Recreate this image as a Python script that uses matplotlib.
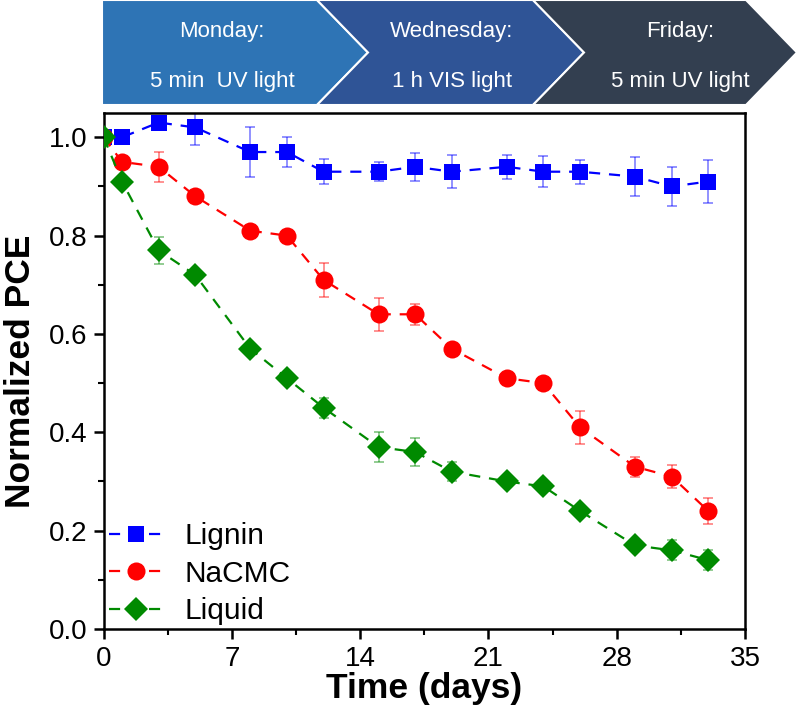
import numpy as np
import matplotlib.pyplot as plt
from matplotlib.patches import Polygon
from matplotlib.ticker import MultipleLocator

plt.rcParams['font.family'] = ['Liberation Sans', 'DejaVu Sans']

# Data
days = [0, 1, 3, 5, 8, 10, 12, 15, 17, 19, 22, 24, 26, 29, 31, 33]

lignin = [1.00, 1.00, 1.03, 1.02, 0.97, 0.97, 0.93, 0.93, 0.94, 0.93, 0.94, 0.93, 0.93, 0.92, 0.90, 0.91]
lignin_err = [0.0, 0.005, 0.01, 0.035, 0.05, 0.03, 0.026, 0.019, 0.028, 0.034, 0.024, 0.031, 0.024, 0.039, 0.039, 0.044]

nacmc = [1.00, 0.95, 0.94, 0.88, 0.81, 0.80, 0.71, 0.64, 0.64, 0.57, 0.51, 0.50, 0.41, 0.33, 0.31, 0.24]
nacmc_err = [0.0, 0.005, 0.03, 0.005, 0.005, 0.005, 0.034, 0.033, 0.021, 0.01, 0.005, 0.005, 0.034, 0.02, 0.024, 0.027]

liquid = [1.00, 0.91, 0.77, 0.72, 0.57, 0.51, 0.45, 0.37, 0.36, 0.32, 0.30, 0.29, 0.24, 0.17, 0.16, 0.14]
liquid_err = [0.0, 0.005, 0.027, 0.01, 0.005, 0.005, 0.02, 0.031, 0.028, 0.02, 0.01, 0.01, 0.012, 0.01, 0.02, 0.02]

labels = ['Lignin', 'NaCMC', 'Liquid']
banner_top = ['Monday:', 'Wednesday:', 'Friday:']
banner_bottom = ['5 min  UV light', '1 h VIS light', '5 min UV light']

fig = plt.figure(figsize=(8, 7.16), dpi=100)
ax = fig.add_axes([0.1296, 0.1215, 0.8016, 0.7211])

series = [(lignin, lignin_err, '#0000ff', 's', 11),
          (nacmc, nacmc_err, '#ff0000', 'o', 13),
          (liquid, liquid_err, '#008a00', 'D', 12)]

for (y, e, c, m, ms), lab in zip(series, labels):
    ax.errorbar(days, y, yerr=e, fmt='none', ecolor=c, alpha=0.5,
                elinewidth=1.2, capsize=3.8, capthick=1.2, zorder=2)
    ax.plot(days, y, ls=(0, (5, 4)), lw=1.6, color=c, marker=m,
            markersize=ms, markeredgewidth=0, label=lab, zorder=3)

ax.set_xlim(0, 35)
ax.set_ylim(0, 1.05)
ax.xaxis.set_major_locator(MultipleLocator(7))
ax.xaxis.set_minor_locator(MultipleLocator(3.5))
ax.yaxis.set_major_locator(MultipleLocator(0.2))
ax.yaxis.set_minor_locator(MultipleLocator(0.1))
ax.yaxis.set_major_formatter(plt.FormatStrFormatter('%.1f'))
ax.tick_params(which='major', direction='out', length=7, width=1.8,
               labelsize=20, pad=5)
ax.tick_params(which='minor', direction='out', length=4, width=1.5)
for s in ax.spines.values():
    s.set_linewidth(1.8)

ax.set_xlabel('Time (days)', fontsize=25.5, fontweight='bold', labelpad=0)
ax.set_ylabel('Normalized PCE', fontsize=25.5, fontweight='bold', labelpad=8)

ax.legend(loc='lower left', frameon=False, fontsize=21.5, handlelength=1.75,
          borderaxespad=0.0, labelspacing=0.32, handletextpad=0.75,
          borderpad=0.3, bbox_to_anchor=(-0.005, -0.01))

# Banner of chevrons on top (pixel coordinates)
bx = fig.add_axes([0, 0, 1, 1], zorder=-1)
bx.set_xlim(0, 800)
bx.set_ylim(716, 0)
bx.axis('off')

banner_colors = ['#2e74b5', '#2f5496', '#333f50']
starts = [102, 317, 533]
ends = [317, 533, 746]
depth = 51
y0, y1 = 0, 105
ym = (y0 + y1) / 2
for i in range(3):
    xs, xe = starts[i], ends[i]
    pts = [(xs, y0), (xe, y0), (xe + depth, ym), (xe, y1), (xs, y1)]
    if i > 0:
        pts.append((xs + depth, ym))
    bx.add_patch(Polygon(pts, closed=True, facecolor=banner_colors[i],
                         edgecolor='white', lw=1.5))
centers = [222, 452, 680]
for cx, t1, t2 in zip(centers, banner_top, banner_bottom):
    bx.text(cx, 32, t1, color='white', fontsize=16, ha='center', va='center')
    bx.text(cx, 82, t2, color='white', fontsize=16, ha='center', va='center')

fig.savefig('out.png', dpi=100)
